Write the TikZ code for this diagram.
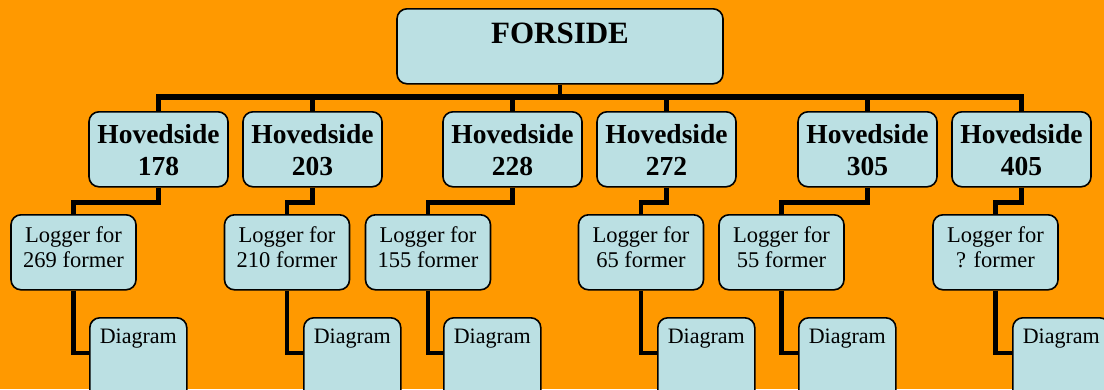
\documentclass[tikz,border=0pt]{standalone}
\usepackage{fontspec}
\setmainfont{Liberation Serif}
\usetikzlibrary{calc}
\definecolor{bgorange}{HTML}{FF9900}
\definecolor{boxblue}{HTML}{BBE0E3}
\pgfdeclarelayer{bg}
\pgfdeclarelayer{edges}
\pgfsetlayers{bg,edges,main}
\tikzset{
  box/.style={draw=black, line width=1.6pt, fill=boxblue, rounded corners=10pt, inner sep=0pt},
  topbox/.style={box, minimum width=326pt, text height=35pt, text depth=40pt,
    font=\fontsize{31}{34}\selectfont\bfseries},
  hbox/.style={box, minimum width=139pt, text height=64pt, text depth=11pt, align=center,
    font=\fontsize{27.5}{32}\selectfont\bfseries},
  lbox/.style={box, minimum width=125pt, text height=53pt, text depth=22pt, align=center,
    font=\fontsize{22.5}{25}\selectfont},
  dbox/.style={box, minimum width=97pt, text height=26pt, text depth=57pt,
    font=\fontsize{22}{25}\selectfont},
  conn/.style={draw=black, line width=4.6pt},
}
\begin{document}
\begin{tikzpicture}[x=1pt, y=-1pt]
\begin{pgfonlayer}{bg}
\fill[bgorange] (0,0) rectangle (1104,389);
\end{pgfonlayer}
\useasboundingbox (0,0) rectangle (1104,389);

\node[topbox, anchor=north] (top) at (560,8) {FORSIDE};

\node[hbox, anchor=north] (h1) at (158.5,111) {Hovedside\\178};
\node[hbox, anchor=north] (h2) at (312.5,111) {Hovedside\\203};
\node[hbox, anchor=north] (h3) at (512.5,111) {Hovedside\\228};
\node[hbox, anchor=north] (h4) at (666.5,111) {Hovedside\\272};
\node[hbox, anchor=north] (h5) at (867.5,111) {Hovedside\\305};
\node[hbox, anchor=north] (h6) at (1021.5,111) {Hovedside\\405};

\node[lbox, anchor=north] (l1) at (73.5,214) {Logger for\\269 former};
\node[lbox, anchor=north] (l2) at (287,214) {Logger for\\210 former};
\node[lbox, anchor=north] (l3) at (428,214) {Logger for\\155 former};
\node[lbox, anchor=north] (l4) at (641,214) {Logger for\\65 former};
\node[lbox, anchor=north] (l5) at (781.5,214) {Logger for\\55 former};
\node[lbox, anchor=north] (l6) at (995.5,214) {Logger for\\? former};

\node[dbox, anchor=north west] (d1) at (89,317) {Diagram};
\node[dbox, anchor=north west] (d2) at (303,317) {Diagram};
\node[dbox, anchor=north west] (d3) at (443,317) {Diagram};
\node[dbox, anchor=north west] (d4) at (657,317) {Diagram};
\node[dbox, anchor=north west] (d5) at (798,317) {Diagram};
\node[dbox, anchor=north west] (d6) at (1012,317) {Diagram};

\begin{pgfonlayer}{edges}
\coordinate (busL) at (h1.north |- 0,97);
\coordinate (busR) at (h6.north |- 0,97);
\draw[conn, line width=5.2pt, line cap=rect] (busL) -- (busR);
\draw[conn] (top.south) -- (top.south |- busL);
\foreach \i in {1,...,6}{
  \draw[conn] (h\i.north |- busL) -- (h\i.north);
  \draw[conn] (h\i.south) -- ++(0,15) -| (l\i.north);
  \draw[conn] (l\i.south) |- ([yshift=-36pt]d\i.north west);
}
\end{pgfonlayer}
\end{tikzpicture}
\end{document}
